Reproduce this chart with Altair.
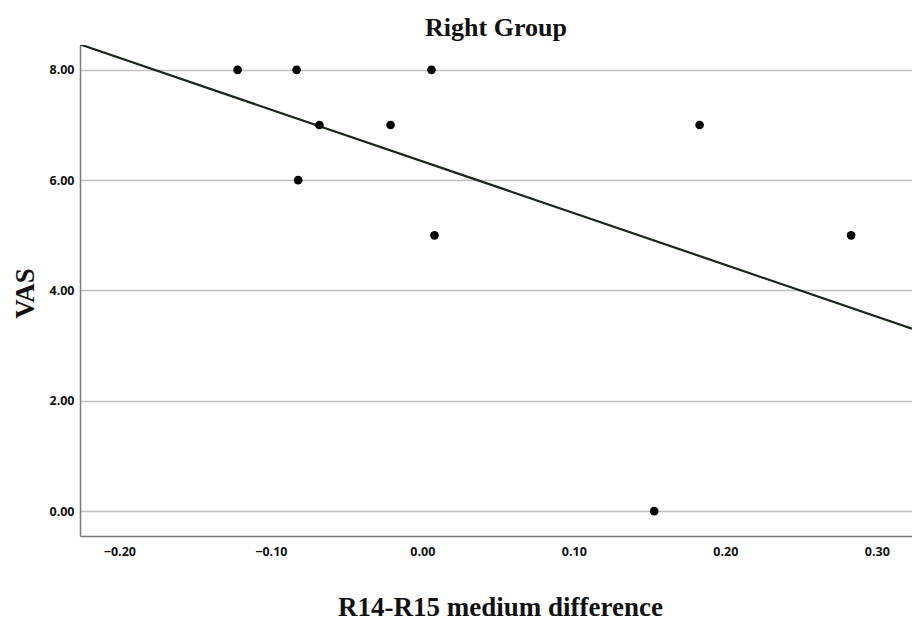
import altair as alt
import pandas as pd

# Data
x_diff = [-0.122, -0.083, 0.006, -0.068, -0.021, -0.082, 0.008, 0.183, 0.283, 0.153]
vas = [8, 8, 8, 7, 7, 6, 5, 7, 5, 0]
x_ticks = [-0.2, -0.1, 0.0, 0.1, 0.2, 0.3]
y_ticks = [0, 2, 4, 6, 8]
x_domain = [-0.226, 0.3232]
y_domain = [-0.45, 8.45]

df = pd.DataFrame({"diff": x_diff, "vas": vas})

x_enc = alt.X(
    "diff:Q",
    scale=alt.Scale(domain=x_domain, nice=False, zero=False),
    axis=alt.Axis(
        values=x_ticks, format=".2f", title="R14-R15 medium difference",
        grid=False, ticks=False, labelPadding=9,
        titleX=420, titleY=79, titleBaseline="alphabetic", titleAlign="center",
    ),
)
y_enc = alt.Y(
    "vas:Q",
    scale=alt.Scale(domain=y_domain, nice=False, zero=False),
    axis=alt.Axis(
        values=y_ticks, format=".2f", title="VAS",
        grid=True, gridColor="#c0c0c0", gridWidth=1.5,
        ticks=False, labelPadding=6,
        titleX=-55, titleY=248, titleAngle=270, titleBaseline="middle", titleAlign="center",
    ),
)

base = alt.Chart(df)

fit = base.transform_regression("diff", "vas", extent=x_domain).mark_line(
    color="#1a261a", strokeWidth=2.2, clip=True
).encode(x=x_enc, y=y_enc)

pts = base.mark_circle(size=75, color="black", opacity=1).encode(x=x_enc, y=y_enc)

chart = alt.layer(fit, pts).properties(
    width=832,
    height=491,
    title=alt.Title(
        "Right Group", font="Liberation Serif", fontSize=26, fontWeight="bold",
        color="#111111", anchor="middle", offset=4,
    ),
    autosize=alt.AutoSizeParams(type="none"),
    padding={"left": 72, "top": 37, "right": 0, "bottom": 84},
).configure_axis(
    domainColor="#7a7a7a", domainWidth=1.5,
    labelFont="Open Sans", labelFontWeight="bold", labelFontSize=12.5, labelColor="#111111",
    titleFont="Liberation Serif", titleFontSize=27, titleFontWeight="bold", titleColor="#111111",
).configure_view(stroke=None)

chart.save("out.html", embed_options={"renderer": "svg", "actions": False})
